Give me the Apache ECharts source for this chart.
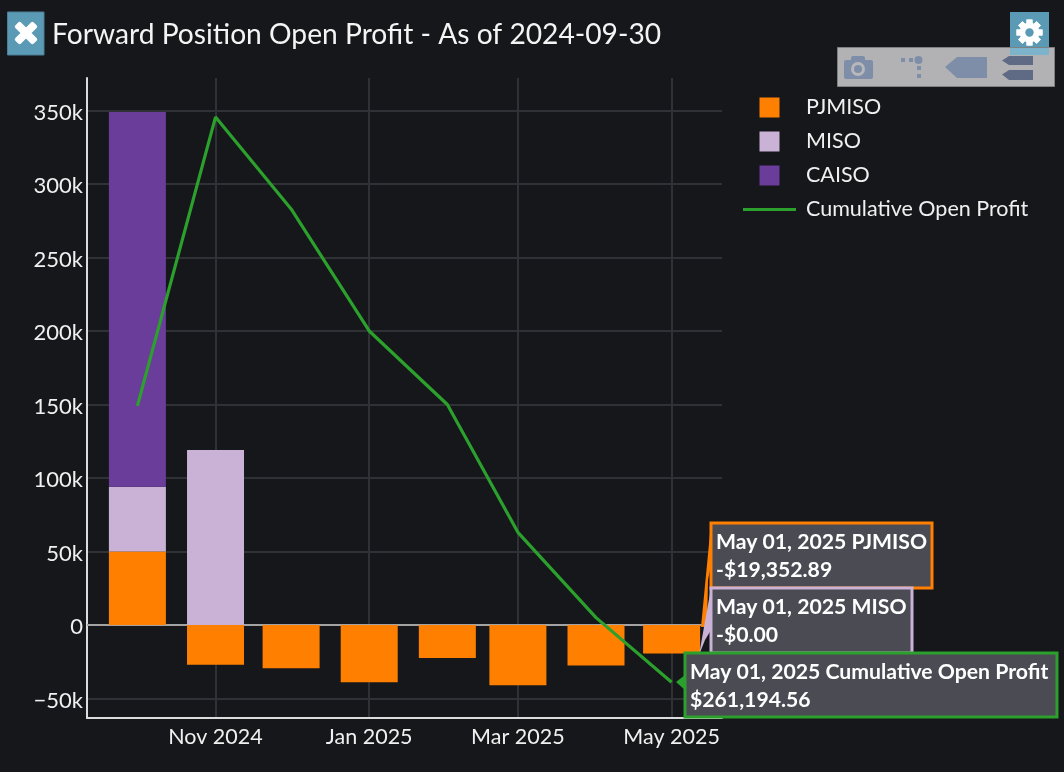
<!DOCTYPE html>
<html><head><meta charset="utf-8">
<script src="https://cdn.jsdelivr.net/npm/echarts@6/dist/echarts.min.js"></script>
<style>html,body{margin:0;padding:0;background:#16171b}#c{width:1064px;height:772px}</style>
</head><body><div id="c"></div>
<script>
const months = ['2024-10-01','2024-11-01','2024-12-01','2025-01-01','2025-02-01','2025-03-01','2025-04-01','2025-05-01'];
const pjmiso = [50000,-27000,-29500,-39000,-22500,-41000,-27500,-19352.89];
const miso = [44000,119000,0,0,0,0,0,0];
const caiso = [255000,0,0,0,0,0,0,0];
const cumulative = [149000,345500,283000,200000,150000,63000,5000,-39000];
const xTicks = ['2024-11-01','2025-01-01','2025-03-01','2025-05-01'];
const xTickLabels = ['Nov 2024','Jan 2025','Mar 2025','May 2025'];
const yTicks = [-50000,0,50000,100000,150000,200000,250000,300000,350000];
const yTickLabels = ['\u221250k','0','50k','100k','150k','200k','250k','300k','350k'];
const t = s => Date.parse(s + 'T00:00:00Z');
const FONT = 'Lato';
const pair = a => a.map((v,i)=>[t(months[i]),v]);
const squareIcon = 'path://M0 0H10V10H0Z';
const lineIcon = 'path://M0 0H53V3H0Z';
const xMin = t('2024-09-11'), xMax = t('2025-05-21');
const plotWidth = 635, barPx = 57;
// the bars' axis widens its extent by the bar width, so it is given a narrower one to end up equal to xMin..xMax
const barPad = (xMax - xMin) * barPx / plotWidth / 2;

const blue='#5b9ab5', iconA='#7f8ea8', iconB='#5f6a85';
function tooltip(box, spike, color, l1, l2){
  const [x,y,w,h]=box;
  return [
    {type:'polygon',z:50,shape:{points:spike},style:{fill:color}},
    {type:'rect',z:51,shape:{x,y,width:w,height:h},style:{fill:'#4b4b54',stroke:color,lineWidth:3}},
    {type:'text',z:52,x:x+5,y:y+19,style:{text:l1,fill:'#fff',font:'bold 21.2px '+FONT,textVerticalAlign:'middle'}},
    {type:'text',z:52,x:x+5,y:y+47,style:{text:l2,fill:'#fff',font:'bold 21.2px '+FONT,textVerticalAlign:'middle'}}
  ];
}
const gear=[];
for(let i=0;i<8;i++){gear.push({type:'rect',z:41,x:1029.5,y:32.5,rotation:i*Math.PI/4,shape:{x:-3,y:-13,width:6,height:26},style:{fill:'#fff'}});}
gear.push({type:'circle',z:41,shape:{cx:1029.5,cy:32.5,r:10},style:{fill:'#fff'}});
gear.push({type:'circle',z:42,shape:{cx:1029.5,cy:32.5,r:4.2},style:{fill:blue}});

const graphics=[
  {type:'rect',z:40,shape:{x:7.5,y:12,width:36.5,height:43},style:{fill:blue,stroke:'#4a7f96',lineWidth:1}},
  {type:'rect',z:41,x:26,y:33,rotation:Math.PI/4,shape:{x:-13,y:-4,width:26,height:8,r:2},style:{fill:'#fff'}},
  {type:'rect',z:41,x:26,y:33,rotation:-Math.PI/4,shape:{x:-13,y:-4,width:26,height:8,r:2},style:{fill:'#fff'}},
  {type:'rect',z:40,shape:{x:1010,y:12,width:39,height:43},style:{fill:blue}},
  ...gear,
  {type:'rect',z:43,shape:{x:837.5,y:47.5,width:217,height:39},style:{fill:'rgba(190,190,192,0.93)',stroke:'#808083',lineWidth:1}},
  {type:'rect',z:44,shape:{x:1010,y:48,width:39,height:7},style:{fill:'#7db3cb'}},
  {type:'rect',z:44,shape:{x:844,y:60,width:29,height:19,r:2},style:{fill:iconA}},
  {type:'rect',z:44,shape:{x:851,y:56,width:14,height:6,r:2},style:{fill:iconA}},
  {type:'circle',z:45,shape:{cx:858,cy:69,r:7},style:{fill:'#b8b8bb'}},
  {type:'circle',z:46,shape:{cx:858,cy:69,r:4},style:{fill:iconA}},
  {type:'rect',z:44,shape:{x:901,y:58,width:4,height:4},style:{fill:iconA}},
  {type:'rect',z:44,shape:{x:909,y:58,width:4,height:4},style:{fill:iconA}},
  {type:'circle',z:44,shape:{cx:918.5,cy:60,r:4},style:{fill:iconA}},
  {type:'rect',z:44,shape:{x:917,y:66,width:4,height:4},style:{fill:iconA}},
  {type:'rect',z:44,shape:{x:917,y:74,width:4,height:4},style:{fill:iconA}},
  {type:'polygon',z:44,shape:{points:[[945,67],[957,57],[987,57],[987,78],[957,78]]},style:{fill:iconA}},
  {type:'polygon',z:44,shape:{points:[[1002,60.5],[1009,56],[1033,56],[1033,65],[1009,65]]},style:{fill:iconB}},
  {type:'polygon',z:44,shape:{points:[[1002,74.5],[1009,70],[1033,70],[1033,80],[1009,80]]},style:{fill:iconB}},
  ...tooltip([711,523,221,65],[[701,627],[711,523],[711,565],[708,580],[707,627]],'#ff8000','May 01, 2025 PJMISO','-$19,352.89'),
  ...tooltip([711,588,201,65],[[699,655],[711,588],[711,630],[705,640]],'#cab2d6','May 01, 2025 MISO','-$0.00'),
  ...tooltip([685,653,372,64],[[676,682],[685,675],[685,690]],'#2ca02c','May 01, 2025 Cumulative Open Profit','$261,194.56')
];

const chart=echarts.init(document.getElementById('c'),null,{renderer:'canvas'});
chart.setOption({
  animation:false,
  backgroundColor:'#16171b',
  textStyle:{fontFamily:FONT},
  title:{text:'Forward Position Open Profit - As of 2024-09-30',left:52,top:21,padding:0,
    textStyle:{color:'#f4f4f4',fontFamily:FONT,fontSize:28.2,fontWeight:400}},
  legend:{orient:'vertical',left:743,top:96.5,itemWidth:53,itemHeight:20,itemGap:12,padding:0,
    textStyle:{color:'#f0f0f0',fontFamily:FONT,fontSize:21.5,padding:[0,0,0,5]},
    data:[{name:'PJMISO',icon:squareIcon},{name:'MISO',icon:squareIcon},{name:'CAISO',icon:squareIcon},{name:'Cumulative Open Profit',icon:lineIcon}]},
  grid:{left:87,right:342,top:78,bottom:54,containLabel:false},
  xAxis:[{type:'value',min:xMin,max:xMax,
    axisLine:{show:true,onZero:false,lineStyle:{color:'#dcdcdc',width:2}},
    axisTick:{show:false,customValues:xTicks.map(t)},
    splitLine:{show:true,lineStyle:{color:'#303136',width:2}},
    axisLabel:{customValues:xTicks.map(t),color:'#f0f0f0',fontSize:21.5,fontFamily:FONT,margin:8,hideOverlap:false,
      formatter:v=>xTickLabels[xTicks.map(t).indexOf(v)]}},
    {type:'time',min:xMin+barPad,max:xMax-barPad,show:false,position:'bottom',splitLine:{show:false}}],
  yAxis:{type:'value',min:-63300,max:372100,
    axisLine:{show:true,onZero:false,lineStyle:{color:'#dcdcdc',width:2}},
    axisTick:{show:false,customValues:yTicks},
    splitLine:{show:true,lineStyle:{color:'#303136',width:2}},
    axisLabel:{customValues:yTicks,color:'#f0f0f0',fontSize:22,fontFamily:FONT,margin:4,
      rich:{a:{color:'#f0f0f0',fontSize:22,fontFamily:FONT,padding:[4,0,0,0]}},
      formatter:v=>'{a|'+yTickLabels[yTicks.indexOf(v)]+'}'}},
  series:[
    {name:'PJMISO',type:'bar',xAxisIndex:1,stack:'a',barWidth:barPx,data:pair(pjmiso),itemStyle:{color:'#ff8000'},
      markLine:{silent:true,symbol:'none',label:{show:false},lineStyle:{color:'#a3a3a3',width:2,type:'solid'},data:[{yAxis:0}],z:1}},
    {name:'MISO',type:'bar',xAxisIndex:1,stack:'a',barWidth:barPx,data:pair(miso),itemStyle:{color:'#cab2d6'}},
    {name:'CAISO',type:'bar',xAxisIndex:1,stack:'a',barWidth:barPx,data:pair(caiso),itemStyle:{color:'#6a3d9a'}},
    {name:'Cumulative Open Profit',type:'line',xAxisIndex:0,data:pair(cumulative),symbol:'none',z:5,lineStyle:{color:'#2ca02c',width:3.2},itemStyle:{color:'#2ca02c'}}
  ],
  graphic:graphics
});
</script></body></html>
